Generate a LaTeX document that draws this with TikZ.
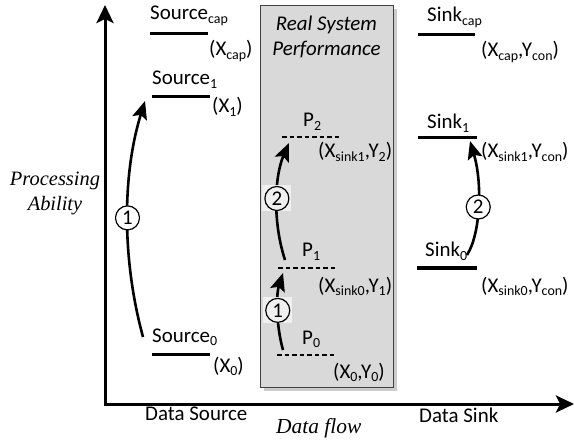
\documentclass[tikz,border=0pt]{standalone}
\usepackage{fontspec}
\setmainfont{Carlito}
\newfontfamily\serifit{Liberation Serif}
\usetikzlibrary{arrows.meta,shadows}

% lowered subscript in a fixed smaller size
\newcommand\lo[1]{\raisebox{-0.15em}{\fontsize{14}{14}\selectfont #1}}

\tikzset{
  axis/.style={line width=3bp, line join=miter,
    {Stealth[length=18bp,width=17bp,inset=4bp]}-{Stealth[length=18bp,width=17bp,inset=4bp]}},
  level/.style={line width=3bp},
  plevel/.style={line width=2.4bp, dash pattern=on 4.5bp off 3bp},
  flow/.style={line width=2.6bp, -{Stealth[length=18bp,width=15bp,inset=3.5bp]}},
  lbl/.style={anchor=base west, inner sep=0, font=\fontsize{21}{25}\selectfont},
  num/.style={circle, draw, line width=1.2bp, minimum size=24bp, inner sep=0,
    fill=white, font=\fontsize{21}{21}\selectfont},
  numbg/.style={fill=black!6, minimum width=29bp, minimum height=26bp, inner sep=0},
  sysbox/.style={draw=black!75, line width=1.3bp, fill=black!15, anchor=north west,
    minimum width=133bp, minimum height=382bp, inner sep=0,
    drop shadow={shadow xshift=3bp, shadow yshift=-3bp, fill=black!25, opacity=0.8}},
}

\begin{document}
\begin{tikzpicture}[x=1bp,y=-1bp]
\useasboundingbox (0,0) rectangle (574,440);

% real system performance box
\node[sysbox] (sys) at (260,5) {};
\node[inner sep=0, align=center, anchor=north,
      font=\fontsize{21}{25}\selectfont\itshape] (systxt) at (326.5,16)
  {Real System\\Performance};

% axes
\coordinate (O) at (105,404);
\coordinate (ytop) at (105,5);
\coordinate (xend) at (574,404);
\draw[axis] (ytop) -- (O) -- (xend);

% axis labels
\node[inner sep=0, align=center, anchor=north,
      font=\fontsize{20.5}{25}\selectfont\serifit\itshape] (ylab) at (55,172)
  {Processing\\Ability};
\node[lbl] (dsrc) at (145,420) {Data Source};
\node[lbl, font=\fontsize{21.5}{24}\selectfont\serifit\itshape] (dflow) at (276,433) {Data flow};
\node[lbl] (dsink) at (419,422) {Data Sink};

% source levels
\coordinate (scapA) at (150,34); \coordinate (scapB) at (208,34);
\draw[level] (scapA) -- (scapB);
\node[lbl] (scap) at (150,20) {Source\lo{cap}};
\node[lbl] (xcap) at (209,56) {(X\lo{cap})};

\coordinate (s1A) at (152,97); \coordinate (s1B) at (210,97);
\draw[level] (s1A) -- (s1B);
\node[lbl] (s1) at (152,85) {Source\lo{1}};
\node[lbl] (x1) at (212,113) {(X\lo{1})};

\coordinate (s0A) at (152,354); \coordinate (s0B) at (210,354);
\draw[level] (s0A) -- (s0B);
\node[lbl] (s0) at (152,342) {Source\lo{0}};
\node[lbl] (x0) at (213,372) {(X\lo{0})};

% source step
\coordinate (srcFrom) at (143,337);
\coordinate (srcTo) at (145,101);
\draw[flow] (srcFrom) .. controls (122,260) and (122,175) .. (srcTo)
  node[num, pos=0.5] (c1) {1};

% performance levels
\coordinate (p2A) at (282,137); \coordinate (p2B) at (340,137);
\draw[plevel] (p2A) -- (p2B);
\node[lbl] (p2) at (303,127) {P\lo{2}};
\node[lbl] (xp2) at (318,158) {(X\lo{sink1},Y\lo{2})};

\coordinate (p1A) at (278,268); \coordinate (p1B) at (337,268);
\draw[plevel] (p1A) -- (p1B);
\node[lbl] (p1) at (302,257) {P\lo{1}};
\node[lbl] (xp1) at (318,292) {(X\lo{sink0},Y\lo{1})};

\coordinate (p0A) at (277,355); \coordinate (p0B) at (334,355);
\draw[plevel] (p0A) -- (p0B);
\node[lbl] (p0) at (302,344) {P\lo{0}};
\node[lbl] (xp0) at (333,378) {(X\lo{0},Y\lo{0})};

% performance steps
\coordinate (m2From) at (285,260);
\coordinate (m2To) at (289,143);
\draw[flow] (m2From) .. controls (272,220) and (275,175) .. (m2To)
  node[numbg, pos=0.5] (m2bg) {};
\node[num, fill=black!6] (m2) at (m2bg) {2};

\coordinate (m1From) at (283,350);
\coordinate (m1To) at (283,273);
\draw[flow] (m1From) .. controls (276,325) and (276,295) .. (m1To)
  node[numbg, pos=0.5] (m1bg) {};
\node[num, fill=black!6] (m1) at (m1bg) {1};

% sink levels
\coordinate (kcapA) at (418,35); \coordinate (kcapB) at (475,35);
\draw[level] (kcapA) -- (kcapB);
\node[lbl] (kcap) at (427,22) {Sink\lo{cap}};
\node[lbl] (xkcap) at (481,57) {(X\lo{cap},Y\lo{con})};

\coordinate (k1A) at (418,138); \coordinate (k1B) at (477,138);
\draw[level] (k1A) -- (k1B);
\node[lbl] (k1) at (427,129) {Sink\lo{1}};
\node[lbl] (xk1) at (481,158) {(X\lo{sink1},Y\lo{con})};

\coordinate (k0A) at (417,268); \coordinate (k0B) at (477,268);
\draw[level] (k0A) -- (k0B);
\node[lbl] (k0) at (425,257) {Sink\lo{0}};
\node[lbl] (xk0) at (481,292) {(X\lo{sink0},Y\lo{con})};

% sink step
\coordinate (snkFrom) at (467,255);
\coordinate (snkTo) at (470,141);
\draw[flow] (snkFrom) .. controls (480,235) and (483,185) .. (snkTo)
  node[num, pos=0.5] (c2) {2};
\end{tikzpicture}
\end{document}
